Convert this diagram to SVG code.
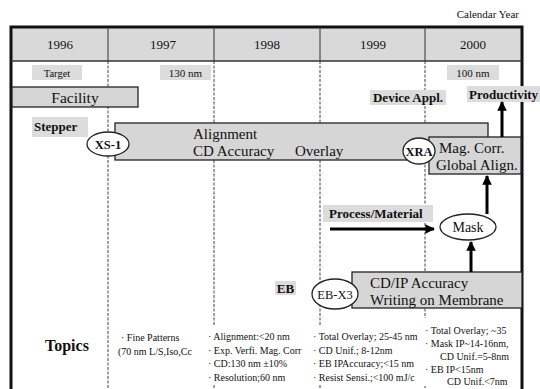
<svg xmlns="http://www.w3.org/2000/svg" width="540" height="389" viewBox="0 0 540 389" font-family="'Liberation Serif', 'DejaVu Serif', serif">
<style>
text{font-family:'Liberation Serif','DejaVu Serif',serif;fill:#111}
.yr{font-size:13px;text-anchor:middle}
.lbl{font-weight:bold;font-size:13px}
.box{fill:#d6d6d6;stroke:#222;stroke-width:1.3}
.tag{fill:#dcdcdc}
.ell{fill:#fff;stroke:#222;stroke-width:1.3}
.big{font-size:15px}
.sm{font-size:10px}
.dash{stroke:#444;stroke-width:1;stroke-dasharray:3 1.5;fill:none}
.arr{stroke:#000;stroke-width:3;fill:none}
</style>
<defs>
<marker id="ah" viewBox="0 0 10 10" refX="9" refY="5" markerWidth="3.2" markerHeight="3.2" orient="auto"><path d="M0,0 L10,5 L0,10 z" fill="#000"/></marker>
</defs>
<rect width="540" height="389" fill="#fff"/>
<text x="519" y="18" font-size="11" text-anchor="end">Calendar Year</text>
<g id="frame">
<rect x="11" y="27" width="511" height="34" fill="#d9d9d9"/>
<path d="M11,389 V27 H522 V389" fill="none" stroke="#111" stroke-width="3"/>
<line x1="11" y1="61" x2="522" y2="61" stroke="#333" stroke-width="1.5"/>
<g stroke="#333" stroke-width="1">
<line x1="108" y1="27" x2="108" y2="61"/><line x1="214" y1="27" x2="214" y2="61"/><line x1="320" y1="27" x2="320" y2="61"/><line x1="425" y1="27" x2="425" y2="61"/>
</g>
<text class="yr" x="60" y="49">1996</text><text class="yr" x="163" y="49">1997</text><text class="yr" x="267" y="49">1998</text><text class="yr" x="373" y="49">1999</text><text class="yr" x="473" y="49">2000</text>
<g class="dash"><line x1="108" y1="61" x2="108" y2="389"/><line x1="214" y1="61" x2="214" y2="389"/><line x1="320" y1="61" x2="320" y2="389"/><line x1="425" y1="61" x2="425" y2="389"/></g>
</g>
<g id="target"><rect class="tag" x="32" y="65" width="50" height="15"/><text x="57" y="76.5" font-size="10.5" text-anchor="middle">Target</text></g>
<g id="t130"><rect class="tag" x="160" y="65" width="51" height="15"/><text x="185.5" y="76.5" font-size="11" text-anchor="middle">130 nm</text></g>
<g id="t100"><rect class="tag" x="447" y="65" width="52" height="15"/><text x="473" y="76.5" font-size="11" text-anchor="middle">100 nm</text></g>
<g id="facility"><rect class="box" x="12" y="87" width="126" height="20"/><text x="75" y="102.5" font-size="15.5" text-anchor="middle">Facility</text></g>
<g id="stepper"><rect class="tag" x="32" y="117" width="56" height="20"/><text class="lbl" x="34" y="131">Stepper</text></g>
<g id="alignment"><rect class="box" x="115" y="123" width="373" height="37"/><text class="big" x="193" y="139">Alignment</text><text class="big" x="193" y="156">CD Accuracy</text><text class="big" x="295" y="156">Overlay</text></g>
<g id="xs1"><ellipse class="ell" cx="108" cy="144" rx="21" ry="12"/><text x="108" y="148.5" font-size="12.5" font-weight="bold" text-anchor="middle">XS-1</text></g>
<g id="magcorr"><rect class="box" x="429" y="137" width="92" height="37"/><text class="big" x="439" y="153">Mag. Corr.</text><text class="big" x="436" y="170">Global Align.</text></g>
<g id="xra"><ellipse class="ell" cx="419" cy="151" rx="16" ry="13"/><text x="419" y="155.5" font-size="12.5" font-weight="bold" text-anchor="middle">XRA</text></g>
<g id="device"><rect class="tag" x="370" y="90" width="76" height="15"/><text class="lbl" x="408" y="102" text-anchor="middle">Device Appl.</text></g>
<g id="productivity"><rect class="tag" x="467" y="86" width="73" height="16"/><text class="lbl" x="469" y="98.5">Productivity</text></g>
<g id="process"><rect class="tag" x="323" y="205" width="110" height="17"/><text class="lbl" x="329" y="218">Process/Material</text></g>
<g id="mask"><ellipse class="ell" cx="468" cy="227" rx="28" ry="13"/><text x="468" y="232" font-size="14" text-anchor="middle">Mask</text></g>
<g id="cdip"><rect class="box" x="352" y="272" width="170" height="36"/><text class="big" x="370" y="288">CD/IP Accuracy</text><text class="big" x="370" y="305">Writing on Membrane</text></g>
<g id="ebx3"><ellipse class="ell" cx="335" cy="294" rx="23" ry="15"/><text x="335" y="298.5" font-size="12.5" text-anchor="middle">EB-X3</text></g>
<g id="eb"><rect class="tag" x="275" y="281" width="21" height="14"/><text class="lbl" x="285.5" y="292.5" text-anchor="middle">EB</text></g>
<g id="connectors">
<line class="arr" x1="502" y1="137" x2="502" y2="102" marker-end="url(#ah)"/>
<line class="arr" x1="487" y1="214" x2="487" y2="176" marker-end="url(#ah)"/>
<line class="arr" x1="471" y1="272" x2="471" y2="242" marker-end="url(#ah)"/>
<line class="arr" x1="330" y1="229" x2="434" y2="229" marker-end="url(#ah)"/>
</g>
<g id="topics">
<text x="45" y="351" font-size="16" font-weight="bold">Topics</text>
<rect x="115" y="328" width="80" height="30" fill="#fff"/>
<text class="sm" x="121" y="341">· Fine Patterns</text>
<text class="sm" x="118" y="355">(70 nm L/S,Iso,Cc</text>
<rect x="205" y="326" width="106" height="59" fill="#fff"/>
<text class="sm" x="208" y="340">· Alignment:&lt;20 nm</text>
<text class="sm" x="208" y="354">· Exp. Verfi. Mag. Corr</text>
<text class="sm" x="208" y="367">· CD:130 nm ±10%</text>
<text class="sm" x="208" y="381">· Resolution;60 nm</text>
<rect x="312" y="326" width="108" height="59" fill="#fff"/>
<text class="sm" x="313" y="340">· Total Overlay; 25-45 nm</text>
<text class="sm" x="313" y="354">·  CD Unif.; 8-12nm</text>
<text class="sm" x="313" y="367">· EB IPAccuracy;&lt;15 nm</text>
<text class="sm" x="313" y="381">· Resist Sensi.;&lt;100 mJ/c</text>
<rect x="421" y="318" width="99" height="68" fill="#fff"/>
<text class="sm" x="425" y="334">· Total Overlay; ~35</text>
<text class="sm" x="425" y="347">· Mask  IP~14-16nm,</text>
<text class="sm" x="440" y="360">CD Unif.=5-8nm</text>
<text class="sm" x="425" y="373">· EB   IP&lt;15nm</text>
<text class="sm" x="447" y="385">CD Unif.&lt;7nm</text>
</g>
</svg>
